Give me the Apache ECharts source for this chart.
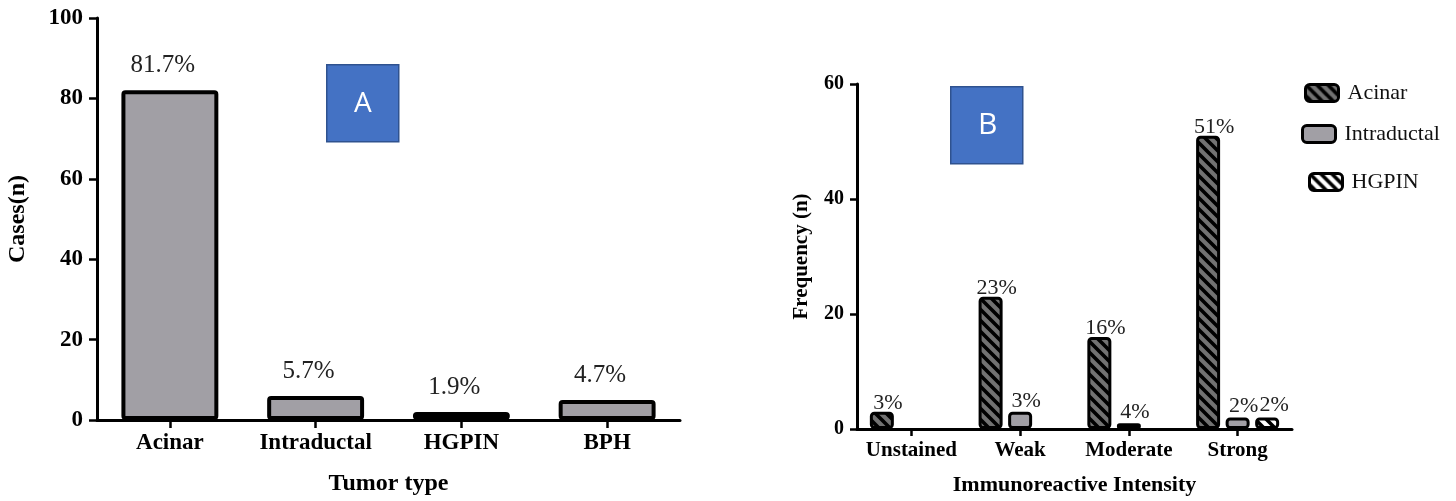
<!DOCTYPE html>
<html>
<head>
<meta charset="utf-8">
<script src="https://cdn.jsdelivr.net/npm/echarts@6/dist/echarts.min.js"></script>
<style>
html,body{margin:0;padding:0;background:#fff;}
#chart{width:1456px;height:501px;}
</style>
</head>
<body>
<div id="chart"></div>
<script>
// ---- Data (panel A) ----
const tumorTypes = ['Acinar', 'Intraductal', 'HGPIN', 'BPH'];
const tumorCases = [82, 6, 2, 5];
const tumorLabels = ['81.7%', '5.7%', '1.9%', '4.7%'];
const casesTicks = [0, 20, 40, 60, 80, 100];

// ---- Data (panel B) ----
const intensities = ['Unstained', 'Weak', 'Moderate', 'Strong'];
const acinarFreq = [3, 23, 16, 51];
const intraductalFreq = [0, 3, 1, 2];
const hgpinFreq = [0, 0, 0, 2];
const acinarLabels = ['3%', '23%', '16%', '51%'];
const intraductalLabels = ['', '3%', '4%', '2%'];
const hgpinLabels = ['', '', '', '2%'];
const freqTicks = [0, 20, 40, 60];

const SERIF = '"Liberation Serif", "Times New Roman", serif';

// zero-height bars are not drawn in the reference
const hideZero = arr => arr.map(v => (v === 0 ? '-' : v));

function hatch(bg, size, lw) {
  const c = document.createElement('canvas');
  c.width = size; c.height = size;
  const g = c.getContext('2d');
  g.fillStyle = bg;
  g.fillRect(0, 0, size, size);
  g.strokeStyle = '#000';
  g.lineWidth = lw;
  g.beginPath();
  for (let k = -1; k <= 1; k++) {
    g.moveTo(-2, -2 + k * size);
    g.lineTo(size + 2, size + 2 + k * size);
  }
  g.stroke();
  return { image: c, repeat: 'repeat' };
}
const acinarFill = hatch('#727272', 11, 3.6);
const hgpinFill = hatch('#ffffff', 11, 3.6);
const grayFill = '#a19fa5';

const chart = echarts.init(document.getElementById('chart'), null, { renderer: 'canvas' });

function axisCommon() {
  return {
    axisLine: { show: true, lineStyle: { color: '#000', width: 3 } },
    axisTick: { show: true, length: 8, lineStyle: { color: '#000', width: 2.5 } },
    splitLine: { show: false }
  };
}

const option = {
  animation: false,
  backgroundColor: '#ffffff',
  grid: [
    { left: 97, top: 18, width: 583, height: 402, containLabel: false },
    { left: 857, top: 84, width: 435, height: 350, containLabel: false }
  ],
  xAxis: [
    Object.assign(axisCommon(), {
      type: 'category', gridIndex: 0, data: tumorTypes,
      name: 'Tumor type', nameLocation: 'middle', nameGap: 52,
      nameTextStyle: { color: '#000', fontFamily: SERIF, fontWeight: 'bold', fontSize: 24 },
      axisTick: { show: true, alignWithLabel: true, length: 8, lineStyle: { color: '#000', width: 2.5 } },
      axisLabel: { color: '#000', fontFamily: SERIF, fontWeight: 'bold', fontSize: 23, margin: 12, interval: 0 }
    }),
    Object.assign(axisCommon(), {
      type: 'category', gridIndex: 1, data: intensities,
      name: 'Immunoreactive Intensity', nameLocation: 'middle', nameGap: 45,
      nameTextStyle: { color: '#000', fontFamily: SERIF, fontWeight: 'bold', fontSize: 22 },
      axisTick: { show: true, alignWithLabel: true, length: 7, lineStyle: { color: '#000', width: 2.5 } },
      axisLabel: { color: '#000', fontFamily: SERIF, fontWeight: 'bold', fontSize: 21, margin: 11, interval: 0 }
    })
  ],
  yAxis: [
    Object.assign(axisCommon(), {
      type: 'value', gridIndex: 0, min: casesTicks[0], max: casesTicks[casesTicks.length - 1], interval: 20,
      name: 'Cases(n)', nameLocation: 'middle', nameGap: 67, nameRotate: 90,
      nameTextStyle: { color: '#000', fontFamily: SERIF, fontWeight: 'bold', fontSize: 24 },
      axisLabel: { color: '#000', fontFamily: SERIF, fontWeight: 'bold', fontSize: 23, margin: 14 }
    }),
    Object.assign(axisCommon(), {
      type: 'value', gridIndex: 1, min: freqTicks[0], max: freqTicks[freqTicks.length - 1], interval: 20,
      name: 'Frequency (n)', nameLocation: 'middle', nameGap: 45, nameRotate: 90,
      nameTextStyle: { color: '#000', fontFamily: SERIF, fontWeight: 'bold', fontSize: 21 },
      axisTick: { show: true, length: 7, lineStyle: { color: '#000', width: 2.5 } },
      axisLabel: { color: '#000', fontFamily: SERIF, fontWeight: 'bold', fontSize: 20, margin: 13 }
    })
  ],
  legend: [
    { left: 1299, top: 77, data: ['Acinar'] },
    { left: 1296, top: 118, data: ['Intraductal'] },
    { left: 1303, top: 166, data: ['HGPIN'] }
  ].map(l => Object.assign(l, {
    orient: 'vertical', icon: 'roundRect', itemWidth: 33, itemHeight: 17,
    itemStyle: { borderColor: '#000', borderWidth: 3 },
    textStyle: { color: '#111', fontFamily: SERIF, fontSize: 22, padding: [0, 0, 0, 4] },
    selectedMode: false
  })),
  series: [
    {
      name: 'Cases', type: 'bar', xAxisIndex: 0, yAxisIndex: 0,
      data: tumorCases, barWidth: '66.5%',
      itemStyle: { color: grayFill, borderColor: '#000', borderWidth: 4, borderRadius: 2 },
      label: {
        show: true, position: 'top', distance: 12, offset: [-7, 0],
        formatter: p => tumorLabels[p.dataIndex],
        color: '#222', fontFamily: SERIF, fontSize: 25
      }
    },
    {
      name: 'Acinar', type: 'bar', xAxisIndex: 1, yAxisIndex: 1,
      data: hideZero(acinarFreq), barWidth: 24, barGap: '23%',
      itemStyle: { color: acinarFill, borderColor: '#000', borderWidth: 3, borderRadius: 3 },
      label: {
        show: true, position: 'top', distance: -2, offset: [6, 0],
        formatter: p => acinarLabels[p.dataIndex],
        color: '#222', fontFamily: SERIF, fontSize: 22
      }
    },
    {
      name: 'Intraductal', type: 'bar', xAxisIndex: 1, yAxisIndex: 1,
      data: hideZero(intraductalFreq), barWidth: 24, barGap: '23%',
      itemStyle: { color: grayFill, borderColor: '#000', borderWidth: 3, borderRadius: 3 },
      label: {
        show: true, position: 'top', distance: 0, offset: [6, 0],
        formatter: p => intraductalLabels[p.dataIndex],
        color: '#222', fontFamily: SERIF, fontSize: 22
      }
    },
    {
      name: 'HGPIN', type: 'bar', xAxisIndex: 1, yAxisIndex: 1,
      data: hideZero(hgpinFreq), barWidth: 24, barGap: '23%',
      itemStyle: { color: hgpinFill, borderColor: '#000', borderWidth: 3, borderRadius: 3 },
      label: {
        show: true, position: 'top', distance: 1, offset: [7, 0],
        formatter: p => hgpinLabels[p.dataIndex],
        color: '#222', fontFamily: SERIF, fontSize: 22
      }
    }
  ],
  graphic: [
    {
      type: 'group', left: 326, top: 64,
      children: [
        { type: 'rect', shape: { x: 0, y: 0, width: 72, height: 77 },
          style: { fill: '#4472c4', stroke: '#2f528f', lineWidth: 1.5 } },
        { type: 'text', x: 36, y: 39,
          style: { text: 'A', fill: '#fff', font: '28px "Open Sans", "Liberation Sans", sans-serif',
                   textAlign: 'center', textVerticalAlign: 'middle' } }
      ]
    },
    {
      type: 'group', left: 950, top: 86,
      children: [
        { type: 'rect', shape: { x: 0, y: 0, width: 72, height: 77 },
          style: { fill: '#4472c4', stroke: '#2f528f', lineWidth: 1.5 } },
        { type: 'text', x: 37, y: 39,
          style: { text: 'B', fill: '#fff', font: '30px "Open Sans", "Liberation Sans", sans-serif',
                   textAlign: 'center', textVerticalAlign: 'middle' } }
      ]
    }
  ]
};

chart.setOption(option);
</script>
</body>
</html>
